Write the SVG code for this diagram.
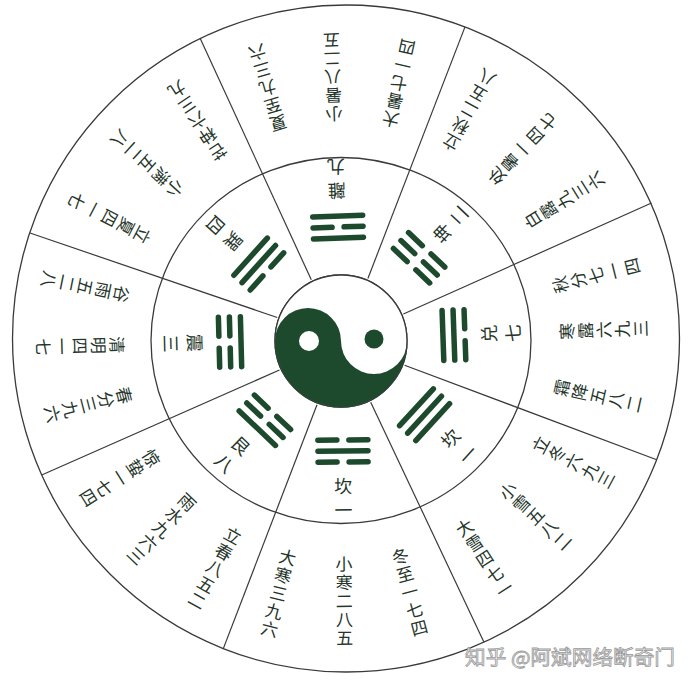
<svg xmlns="http://www.w3.org/2000/svg" width="691" height="683" viewBox="0 0 691 683">
<style>
.ring{fill:none;stroke:#3a3a3a;stroke-width:1.3}
.sep{stroke:#3a3a3a;stroke-width:1.2;fill:none}
.bar{stroke:#1d4a2d;stroke-width:5.5;stroke-linecap:round}
.t{font-family:"Noto Sans CJK SC","Noto Sans CJK TC",sans-serif;font-size:17px;fill:#25352a;text-anchor:middle;dominant-baseline:central}
.lb{font-family:"Noto Sans CJK SC","Noto Sans CJK TC",sans-serif;font-size:18px;fill:#25352a;text-anchor:middle;dominant-baseline:central}
.wm{font-family:"Noto Sans CJK SC",sans-serif;font-size:20px;fill:#f6f6f6;stroke:#9a9a9a;stroke-width:0.8}
</style>
<rect width="691" height="683" fill="#ffffff"/>
<g id="rings">
<circle class="ring" cx="346" cy="338.5" r="333.5"/>
<ellipse class="ring" cx="341" cy="340.5" rx="190" ry="183"/>
<circle class="ring" cx="341" cy="341" r="66"/>
</g>
<g id="connectors">
<line class="sep" x1="311.3" y1="279.8" x2="200" y2="38"/>
<line class="sep" x1="367.9" y1="278.5" x2="465" y2="26.9"/>
<line class="sep" x1="403.4" y1="314" x2="651.5" y2="203"/>
<line class="sep" x1="404.6" y1="365.2" x2="656.7" y2="459.8"/>
<line class="sep" x1="370.7" y1="402.2" x2="484" y2="642.2"/>
<line class="sep" x1="317" y1="404.7" x2="223.3" y2="648.6"/>
<line class="sep" x1="279.5" y1="370" x2="41.7" y2="475"/>
<line class="sep" x1="277.2" y1="317.5" x2="30" y2="233"/>
</g>
<g id="taiji">
<circle cx="341" cy="341" r="66" fill="#ffffff" stroke="#3a3a3a" stroke-width="1.3"/>
<path d="M275,341 A33,33 0 0 1 341,341 A33,33 0 0 0 407,341 A66,66 0 0 1 275,341 Z" fill="#1d4a2d"/>
<circle cx="309" cy="341" r="10" fill="#ffffff"/>
<circle cx="374" cy="339" r="9.5" fill="#1d4a2d"/>
</g>

<g id="kan" transform="rotate(-0.5 342 339)">
<line class="bar" x1="317" y1="440" x2="336" y2="440"/><line class="bar" x1="348" y1="440" x2="367" y2="440"/>
<line class="bar" x1="317" y1="451" x2="367" y2="451"/>
<line class="bar" x1="317" y1="462" x2="336" y2="462"/><line class="bar" x1="348" y1="462" x2="367" y2="462"/>
<text class="lb" x="342" y="485">坎</text><text class="lb" x="342" y="509">一</text>
<text class="t" transform="rotate(-14.5 342 339)" x="342 342 342 342 342" y="563 581.5 600 618.5 637">冬至一七四</text>
<text class="t" x="342 342 342 342 342" y="563 581.5 600 618.5 637">小寒二八五</text>
<text class="t" transform="rotate(14.5 342 339)" x="342 342 342 342 342" y="563 581.5 600 618.5 637">大寒三九六</text>
</g>

<g id="gen" transform="rotate(43.5 342 339)">
<line class="bar" x1="317" y1="440" x2="336" y2="440"/><line class="bar" x1="348" y1="440" x2="367" y2="440"/>
<line class="bar" x1="317" y1="451" x2="336" y2="451"/><line class="bar" x1="348" y1="451" x2="367" y2="451"/>
<line class="bar" x1="317" y1="462" x2="367" y2="462"/>
<text class="lb" x="342" y="485">艮</text><text class="lb" x="342" y="509">八</text>
<text class="t" transform="rotate(-14.5 342 339)" x="342 342 342 342 342" y="563 581.5 600 618.5 637">立春八五二</text>
<text class="t" x="342 342 342 342 342" y="563 581.5 600 618.5 637">雨水九六三</text>
<text class="t" transform="rotate(14.5 342 339)" x="342 342 342 342 342" y="563 581.5 600 618.5 637">惊蛰一七四</text>
</g>

<g id="zhen" transform="rotate(88.5 342 339)">
<line class="bar" x1="317" y1="440" x2="367" y2="440"/>
<line class="bar" x1="317" y1="451" x2="336" y2="451"/><line class="bar" x1="348" y1="451" x2="367" y2="451"/>
<line class="bar" x1="317" y1="462" x2="336" y2="462"/><line class="bar" x1="348" y1="462" x2="367" y2="462"/>
<text class="lb" x="342" y="485">震</text><text class="lb" x="342" y="509">三</text>
<text class="t" transform="rotate(-13 342 339)" x="342 342 342 342 342" y="563 581.5 600 618.5 637">春分三九六</text>
<text class="t" x="342 342 342 342 342" y="563 581.5 600 618.5 637">清明四一七</text>
<text class="t" transform="rotate(13 342 339)" x="342 342 342 342 342" y="563 581.5 600 618.5 637">谷雨五二八</text>
</g>

<g id="xun" transform="rotate(132 342 339)">
<line class="bar" x1="317" y1="440" x2="336" y2="440"/><line class="bar" x1="348" y1="440" x2="367" y2="440"/>
<line class="bar" x1="317" y1="451" x2="367" y2="451"/>
<line class="bar" x1="317" y1="462" x2="367" y2="462"/>
<text class="lb" x="342" y="484">巽</text><text class="lb" x="342" y="508">四</text>
<text class="t" transform="rotate(-14.5 342 339)" x="342 342 342 342 342" y="563 581.5 600 618.5 637">立夏四一七</text>
<text class="t" x="342 342 342 342 342" y="563 581.5 600 618.5 637">小满五二八</text>
<text class="t" transform="rotate(14.5 342 339)" x="342 342 342 342 342" y="563 581.5 600 618.5 637">芒种六三九</text>
</g>

<g id="li" transform="rotate(178 342 339)">
<line class="bar" x1="317" y1="440" x2="367" y2="440"/>
<line class="bar" x1="317" y1="451" x2="336" y2="451"/><line class="bar" x1="348" y1="451" x2="367" y2="451"/>
<line class="bar" x1="317" y1="462" x2="367" y2="462"/>
<text class="lb" x="342" y="486">離</text><text class="lb" x="342" y="510">九</text>
<text class="t" transform="rotate(-14.5 342 339)" x="342 342 342 342 342" y="563 581.5 600 618.5 637">夏至九三六</text>
<text class="t" x="342 342 342 342 342" y="563 581.5 600 618.5 637">小暑八二五</text>
<text class="t" transform="rotate(14.5 342 339)" x="342 342 342 342 342" y="563 581.5 600 618.5 637">大暑七一四</text>
</g>

<g id="kun" transform="rotate(223.5 342 339)">
<line class="bar" x1="317" y1="440" x2="336" y2="440"/><line class="bar" x1="348" y1="440" x2="367" y2="440"/>
<line class="bar" x1="317" y1="451" x2="336" y2="451"/><line class="bar" x1="348" y1="451" x2="367" y2="451"/>
<line class="bar" x1="317" y1="462" x2="336" y2="462"/><line class="bar" x1="348" y1="462" x2="367" y2="462"/>
<text class="lb" x="342" y="484">坤</text><text class="lb" x="342" y="508">二</text>
<text class="t" transform="rotate(-14.5 342 339)" x="342 342 342 342 342" y="563 581.5 600 618.5 637">立秋二五八</text>
<text class="t" x="342 342 342 342 342" y="563 581.5 600 618.5 637">处暑一四七</text>
<text class="t" transform="rotate(14.5 342 339)" x="342 342 342 342 342" y="563 581.5 600 618.5 637">白露九三六</text>
</g>

<g id="dui" transform="rotate(268 342 339)">
<line class="bar" x1="317" y1="440" x2="367" y2="440"/>
<line class="bar" x1="317" y1="451" x2="367" y2="451"/>
<line class="bar" x1="317" y1="462" x2="336" y2="462"/><line class="bar" x1="348" y1="462" x2="367" y2="462"/>
<text class="lb" x="342" y="485">兑</text><text class="lb" x="342" y="509">七</text>
<text class="t" transform="rotate(-12 342 339)" x="342 342 342 342 342" y="563 581.5 600 618.5 637">秋分七一四</text>
<text class="t" x="342 342 342 342 342" y="563 581.5 600 618.5 637">寒露六九三</text>
<text class="t" transform="rotate(14.5 342 339)" x="342 342 342 342 342" y="563 581.5 600 618.5 637">霜降五八二</text>
</g>

<g id="qian" transform="rotate(312.5 342 339)">
<line class="bar" x1="317" y1="440" x2="367" y2="440"/>
<line class="bar" x1="317" y1="451" x2="367" y2="451"/>
<line class="bar" x1="317" y1="462" x2="367" y2="462"/>
<text class="lb" x="342" y="485">坎</text><text class="lb" x="342" y="509">一</text>
<text class="t" transform="rotate(-14.5 342 339)" x="342 342 342 342 342" y="563 581.5 600 618.5 637">立冬六九三</text>
<text class="t" x="342 342 342 342 342" y="563 581.5 600 618.5 637">小雪五八二</text>
<text class="t" transform="rotate(14.5 342 339)" x="342 342 342 342 342" y="563 581.5 600 618.5 637">大雪四七一</text>
</g>

<text class="wm" x="465" y="665" textLength="210" lengthAdjust="spacingAndGlyphs">知乎 @阿斌网络断奇门</text>
</svg>
